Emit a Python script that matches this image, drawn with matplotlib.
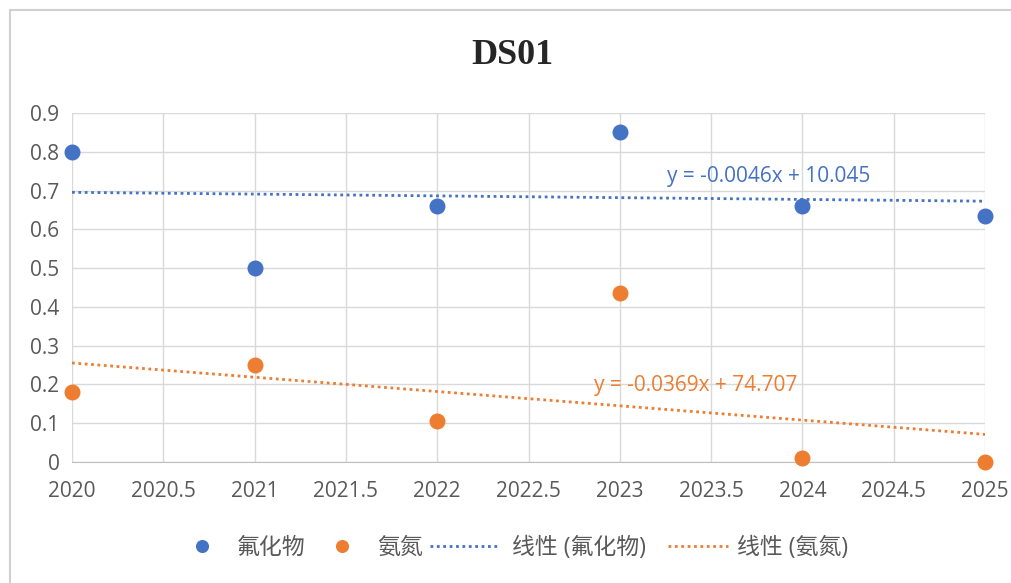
import numpy as np
import matplotlib

matplotlib.use("Agg")
import matplotlib.pyplot as plt
from matplotlib.patches import Rectangle

years = [2020, 2021, 2022, 2023, 2024, 2025]
fluoride = [0.80, 0.50, 0.66, 0.85, 0.66, 0.634]
ammonia = [0.18, 0.25, 0.105, 0.435, 0.01, 0.0]
series_names = ["氟化物", "氨氮"]
trend_labels = ["线性 (氟化物)", "线性 (氨氮)"]
equations = ["y = -0.0046x + 10.045", "y = -0.0369x + 74.707"]
x_ticks = [2020, 2020.5, 2021, 2021.5, 2022, 2022.5, 2023, 2023.5, 2024, 2024.5, 2025]
y_ticks = [0, 0.1, 0.2, 0.3, 0.4, 0.5, 0.6, 0.7, 0.8, 0.9]

BLUE = "#4472C4"
ORANGE = "#ED7D31"
GRID = "#d9d9d9"
TEXT = "#595959"
FONTS = ["Open Sans", "Noto Sans CJK SC", "DejaVu Sans"]
W, H = 1011, 583

plt.rcParams["font.family"] = FONTS

fig = plt.figure(figsize=(W / 100, H / 100), dpi=100)
# chart-area frame (only top and left edges are visible in the crop)
fig.patches.append(
    Rectangle((10 / W, -0.1), 1.2, 1 - 10 / H + 0.1, transform=fig.transFigure,
              fill=False, edgecolor="#d0d0d0", linewidth=1.5)
)
ax = fig.add_axes([72 / W, 1 - 462 / H, (985 - 72) / W, (462 - 113) / H])

xs = np.array(years, dtype=float)
handles = []
for values, color, name in [
    (fluoride, BLUE, series_names[0]),
    (ammonia, ORANGE, series_names[1]),
]:
    h, = ax.plot(xs, values, "o", color=color, markersize=10.5, label=name,
                 zorder=4, clip_on=False)
    handles.append(h)

for values, color, tlabel in [
    (fluoride, BLUE, trend_labels[0]),
    (ammonia, ORANGE, trend_labels[1]),
]:
    slope, intercept = np.polyfit(xs, values, 1)
    fit_x = np.array([xs[0], xs[-1]])
    h, = ax.plot(fit_x, slope * fit_x + intercept, color=color, linewidth=2,
                 linestyle=(0, (1, 1.3)), label=tlabel, zorder=3)
    handles.append(h)

ax.text(2023.26, 0.735, equations[0], color=BLUE, fontsize=15, va="center", ha="left")
ax.text(2022.86, 0.196, equations[1], color=ORANGE, fontsize=15, va="center", ha="left")

ax.set_xlim(2020, 2025)
ax.set_ylim(0, 0.9)
ax.set_xticks(x_ticks)
ax.set_xticklabels([f"{t:g}" for t in x_ticks])
ax.set_yticks(y_ticks)
ax.set_yticklabels([f"{t:g}" for t in y_ticks])
ax.grid(True, color=GRID, linewidth=1)
ax.set_axisbelow(True)
for side in ["top", "right", "left"]:
    ax.spines[side].set_visible(False)
ax.spines["bottom"].set_color("#bfbfbf")
ax.tick_params(length=0, labelsize=15, colors=TEXT)
ax.tick_params(axis="x", pad=14)
ax.tick_params(axis="y", pad=9)

fig.text(0.507, 1 - 55 / H, "DS01", ha="center", va="center", fontsize=26,
         fontweight="bold", family=["Liberation Serif", "DejaVu Serif"], color="#262626")

# legend: one small legend per entry so marker and line keys get their own spacing
legend_fs = 16.5
em_px = legend_fs * 100 / 72
entry_layout = [  # (left px, handle length em, text pad em)
    (191, 1.0, 1.0),
    (331, 1.0, 1.0),
    (430, 3.05, 0.55),
    (668, 2.6, 0.42),
]
for h, (left, hlen, pad) in zip(handles, entry_layout):
    leg = fig.legend([h], [h.get_label()], loc="center left",
                     bbox_to_anchor=(left / W, 1 - 548 / H), frameon=False,
                     fontsize=legend_fs, labelcolor=TEXT, handlelength=hlen,
                     handletextpad=pad, borderpad=0, borderaxespad=0,
                     markerscale=0.8)

fig.savefig("out.png", dpi=100)
